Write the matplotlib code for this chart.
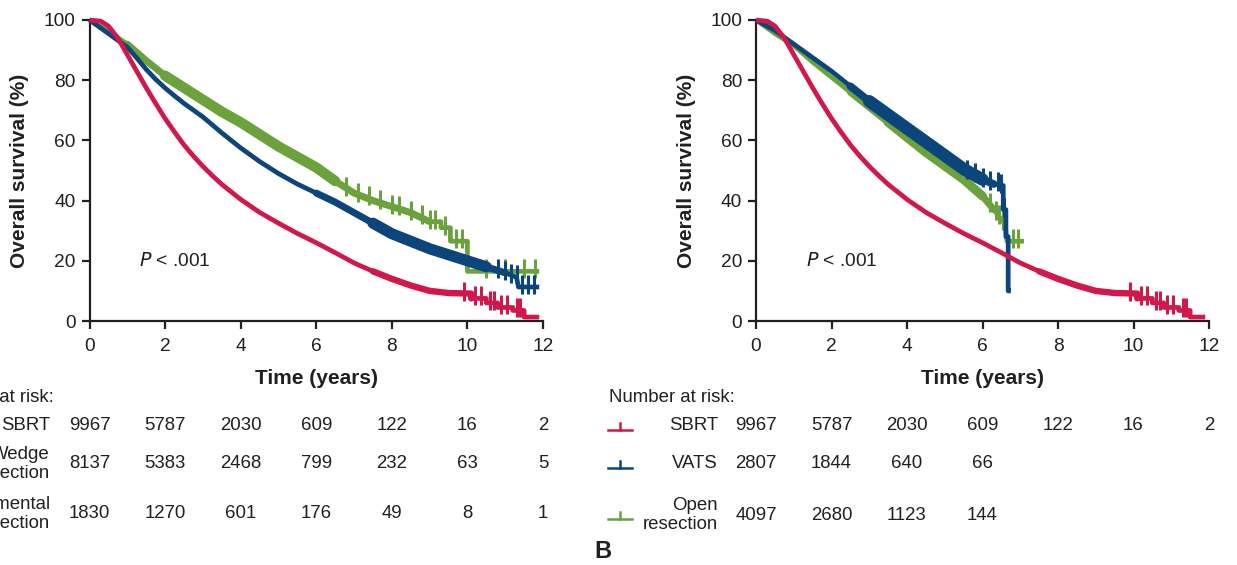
import matplotlib
matplotlib.use('Agg')
import matplotlib.pyplot as plt
from matplotlib.lines import Line2D
from matplotlib.transforms import blended_transform_factory
import numpy as np

plt.rcParams['font.family'] = ['Liberation Sans', 'DejaVu Sans']

# ---------------- data ----------------
x_ticks = [0, 2, 4, 6, 8, 10, 12]
y_ticks = [0, 20, 40, 60, 80, 100]

# SBRT (same curve in both panels)
sbrt_t = [0, 0.3, 0.5, 0.75, 1.0, 1.25, 1.5, 1.75, 2.0, 2.25, 2.5, 2.75, 3.0, 3.25, 3.5, 4.0,
          4.5, 5.0, 5.5, 6.0, 6.5, 7.0, 7.5, 8.0, 8.5, 9.0, 9.5, 10.1, 10.1, 10.5, 10.5,
          10.8, 10.8, 11.2, 11.2, 11.5, 11.5, 11.9]
sbrt_s = [100, 99.6, 98, 94, 88.5, 83, 77.5, 72.3, 67.3, 62.8, 58.5, 54.8, 51.4, 48.3, 45.4, 40.4,
          36.1, 32.5, 29.1, 26, 22.7, 19.3, 16.5, 14, 11.8, 10, 9.3, 9.1, 7.5, 7.5, 6.0,
          6.0, 4.5, 4.5, 3.5, 3.5, 1.3, 1.3]
sbrt_cens_t = [9.9, 10.2, 10.35, 10.6, 10.7, 10.9, 11.05, 11.3, 11.4]
sbrt_cens_s = [9.1, 7.5, 7.5, 6.0, 6.0, 4.5, 4.5, 3.5, 3.5]

# Panel A: wedge resection
wedge_t = [0, 0.5, 1.0, 1.25, 1.5, 1.75, 2.0, 2.25, 2.5, 3.0, 3.5, 4.0, 4.5, 5.0, 5.5, 6.0,
           6.5, 7.0, 7.5, 8.0, 8.5, 9.0, 9.5, 10.0, 10.5, 11.0, 11.3, 11.35, 11.9]
wedge_s = [100, 95.5, 91, 87.4, 83.6, 80.3, 77.4, 74.8, 72.3, 67.8, 62.5, 57.5, 53, 49, 45.5, 42.5,
           39.5, 36, 32.5, 29, 26.5, 24, 22, 20, 18, 16, 14.5, 11.3, 11.3]
wedge_cens_t = [10.8, 11.0, 11.15, 11.3, 11.45, 11.6, 11.75]
wedge_cens_s = [16.5, 16.0, 15.0, 14.5, 11.3, 11.3, 11.3]

# Panel A: segmental resection
seg_t = [0, 0.5, 1.0, 1.5, 2.0, 2.5, 3.0, 3.5, 4.0, 4.5, 5.0, 5.5, 6.0, 6.5, 7.0, 7.5,
         8.0, 8.5, 9.0, 9.3, 9.3, 9.55, 9.55, 10.0, 10.0, 11.9]
seg_s = [100, 96.3, 92, 86.5, 81.5, 77.5, 73.5, 69.5, 66, 62, 58, 54.5, 51, 46.5, 42.5, 40,
         38, 36, 33, 33, 31, 31, 26.5, 26.5, 16.5, 16.5]
seg_cens_t = [6.8, 7.1, 7.4, 7.7, 8.0, 8.2, 8.5, 8.8, 9.0, 9.15, 9.4, 9.7, 9.85, 10.5, 11.0, 11.5, 11.8]
seg_cens_s = [44, 42, 41, 39.5, 38, 37.5, 36, 34.5, 33, 33, 31, 26.5, 26.5, 16.5, 16.5, 16.5, 16.5]

# Panel B: VATS
vats_t = [0, 0.5, 1.0, 1.5, 2.0, 2.5, 3.0, 3.5, 4.0, 4.5, 5.0, 5.5, 6.0, 6.3, 6.55,
          6.55, 6.62, 6.62, 6.68, 6.68, 6.75]
vats_s = [100, 96.5, 92, 87.5, 83, 78, 73, 68.5, 64, 59.5, 55, 50.5, 47, 45.5, 45,
          37, 37, 28, 28, 10, 10]
vats_cens_t = [5.6, 5.8, 6.0, 6.2, 6.4, 6.5, 6.58]
vats_cens_s = [49.5, 48.5, 47, 46, 45.5, 45, 37]

# Panel B: open resection
open_t = [0, 0.5, 1.0, 1.5, 2.0, 2.5, 3.0, 3.5, 4.0, 4.5, 5.0, 5.5, 6.0, 6.3, 6.6, 6.65, 7.1]
open_s = [100, 95.5, 91.5, 86, 81, 76, 71, 66, 61, 56, 51.5, 47, 41.5, 37, 32, 26.5, 26.5]
open_cens_t = [6.2, 6.35, 6.45, 6.55, 6.8, 6.95]
open_cens_s = [38.5, 36, 34.5, 32.5, 26.5, 26.5]

risk_times = [0, 2, 4, 6, 8, 10, 12]
risk_sbrt = ["9967", "5787", "2030", "609", "122", "16", "2"]
risk_wedge = ["8137", "5383", "2468", "799", "232", "63", "5"]
risk_seg = ["1830", "1270", "601", "176", "49", "8", "1"]
risk_vats = ["2807", "1844", "640", "66"]
risk_open = ["4097", "2680", "1123", "144"]

RED = '#D2174A'
BLUE = '#0B457C'
GREEN = '#6CA23C'
TXT = '#231F20'

W, H = 1237, 565
fig = plt.figure(figsize=(W / 100, H / 100), dpi=100)


def fx(px):
    return px / W


def fy(py):
    return 1 - py / H


axL = fig.add_axes([fx(89.5), fy(321), fx(543) - fx(89.5), fy(20) - fy(321)])
axR = fig.add_axes([fx(756), fy(321), fx(1209) - fx(756), fy(20) - fy(321)])


def style_axes(ax):
    ax.set_xlim(0, 12)
    ax.set_ylim(0, 100)
    for sp in ['top', 'right']:
        ax.spines[sp].set_visible(False)
    for sp in ['left', 'bottom']:
        ax.spines[sp].set_linewidth(1.6)
        ax.spines[sp].set_color(TXT)
    ax.set_xticks(x_ticks)
    ax.set_yticks(y_ticks)
    ax.tick_params(axis='x', length=6, width=1.6, color=TXT, labelsize=13.8, pad=6.5, labelcolor=TXT)
    ax.tick_params(axis='y', length=6, width=1.6, color=TXT, labelsize=13.8, pad=4, labelcolor=TXT)
    ax.patch.set_alpha(0)


def draw_curve(ax, t, s, ct, cs, color, z, bands=()):
    t = np.asarray(t, float)
    s = np.asarray(s, float)
    ax.plot(t, s, color=color, lw=3.4, zorder=z, clip_on=False, solid_capstyle='butt')
    for (b0, b1, blw) in bands:
        m = (t >= b0) & (t <= b1)
        ax.plot(t[m], s[m], color=color, lw=blw, zorder=z, clip_on=False,
                solid_capstyle='round', solid_joinstyle='round')
    ax.plot(ct, cs, linestyle='none', marker=2, markersize=9, mew=2.2, color=color,
            zorder=z, clip_on=False)
    ax.plot(ct, cs, linestyle='none', marker=3, markersize=5, mew=2.2, color=color,
            zorder=z, clip_on=False)


for ax in (axL, axR):
    style_axes(ax)

draw_curve(axL, seg_t, seg_s, seg_cens_t, seg_cens_s, GREEN, 2,
           bands=[(1.0, 9.0, 5), (2.0, 6.5, 7.5)])
draw_curve(axL, wedge_t, wedge_s, wedge_cens_t, wedge_cens_s, BLUE, 3,
           bands=[(6.0, 11.0, 5), (7.5, 10.5, 8)])
draw_curve(axL, sbrt_t, sbrt_s, sbrt_cens_t, sbrt_cens_s, RED, 4, bands=[(7.5, 10.1, 4.6)])

draw_curve(axR, open_t, open_s, open_cens_t, open_cens_s, GREEN, 2,
           bands=[(2.5, 6.3, 5), (3.5, 6.0, 6.5)])
draw_curve(axR, vats_t, vats_s, vats_cens_t, vats_cens_s, BLUE, 3,
           bands=[(2.5, 6.3, 5.5), (3.0, 6.0, 9)])
draw_curve(axR, sbrt_t, sbrt_s, sbrt_cens_t, sbrt_cens_s, RED, 4, bands=[(7.5, 10.1, 4.6)])

for ax, ylx in ((axL, 20), (axR, 687)):
    ax.text(1.32, 20, r'$\it{P}$ < .001', fontsize=13.8, color=TXT, ha='left', va='center')
    fig.text(fx(ylx), fy(170.5), 'Overall survival (%)', rotation=90, fontsize=15,
             fontweight='bold', color=TXT, ha='center', va='center')
    fig.text(ax.get_position().x0 + ax.get_position().width / 2, fy(378), 'Time (years)',
             fontsize=15, fontweight='bold', color=TXT, ha='center', va='center')

# number-at-risk tables
FS = 13.4
for ax, rows in ((axL, [(425, risk_sbrt), (464, risk_wedge), (514, risk_seg)]),
                 (axR, [(425, risk_sbrt), (464, risk_vats), (515, risk_open)])):
    tr = blended_transform_factory(ax.transData, fig.transFigure)
    for ypx, vals in rows:
        for tt, v in zip(risk_times, vals):
            fig.text(tt, fy(ypx), v, transform=tr, fontsize=FS, color=TXT, ha='center', va='center')

# left table labels (partially cut by the figure edge, as in the source)
fig.text(fx(54), fy(398), 'Number at risk:', fontsize=FS, color=TXT, ha='right', va='center')
fig.text(fx(50), fy(425), 'SBRT', fontsize=FS, color=TXT, ha='right', va='center')
fig.text(fx(50), fy(464), 'Wedge\nresection', fontsize=FS, color=TXT, ha='right', va='center',
         linespacing=1.2)
fig.text(fx(50), fy(514), 'Segmental\nresection', fontsize=FS, color=TXT, ha='right', va='center',
         linespacing=1.2)

# right table labels
fig.text(fx(609), fy(398), 'Number at risk:', fontsize=FS, color=TXT, ha='left', va='center')
fig.text(fx(718), fy(425), 'SBRT', fontsize=FS, color=TXT, ha='right', va='center')
fig.text(fx(718), fy(464), 'VATS', fontsize=FS, color=TXT, ha='right', va='center')
fig.text(fx(718), fy(515), 'Open\nresection', fontsize=FS, color=TXT, ha='right', va='center',
         linespacing=1.2)

for ypx, col in ((430, RED), (468, BLUE), (519, GREEN)):
    fig.add_artist(Line2D([fx(608), fx(632)], [fy(ypx), fy(ypx)], color=col, lw=1.8,
                          transform=fig.transFigure))
    fig.add_artist(Line2D([fx(620), fx(620)], [fy(ypx), fy(ypx - 7)], color=col, lw=1.8,
                          transform=fig.transFigure))

fig.text(fx(603), fy(552), 'B', fontsize=17, fontweight='bold', color=TXT, ha='center', va='center')

fig.savefig('out.png', dpi=100)
